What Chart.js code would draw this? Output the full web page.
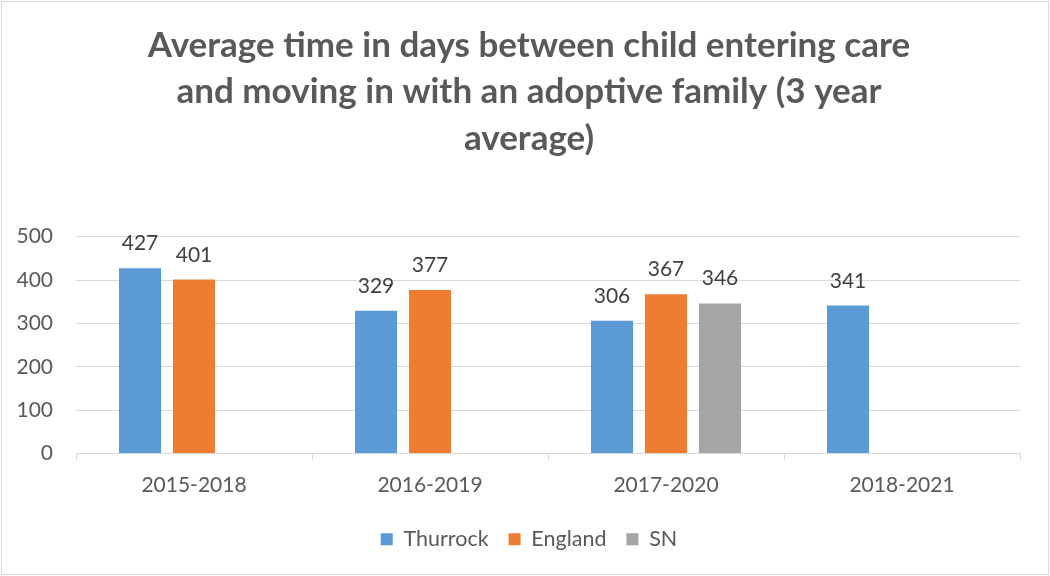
<!DOCTYPE html>
<html>
<head>
<meta charset="utf-8">
<title>Adoption timeliness</title>
<script src="https://cdn.jsdelivr.net/npm/chart.js@4/dist/chart.umd.min.js"></script>
<style>
  html, body { margin: 0; padding: 0; background: #fff; }
  #wrap { width: 1050px; height: 576px; position: relative; }
</style>
</head>
<body>
<div id="wrap"><canvas id="adoptChart"></canvas></div>
<script>
const periods = ["2015-2018", "2016-2019", "2017-2020", "2018-2021"];
const thurrock = [427, 329, 306, 341];
const england = [401, 377, 367, null];
const statNeighbours = [null, null, 346, null];
const yTicks = [0, 100, 200, 300, 400, 500];

const titleLines = [
  "Average time in days between child entering care",
  "and moving in with an adoptive family (3 year",
  "average)"
];

const FONT = "Lato, 'Open Sans', sans-serif";
const GREY_TEXT = "#595959";
const GRID = "#d9d9d9";

// white background plus a thin frame round the whole chart
const frame = {
  id: "frame",
  beforeDraw(chart) {
    const { ctx, width, height } = chart;
    ctx.save();
    ctx.fillStyle = "#fff";
    ctx.fillRect(0, 0, width, height);
    ctx.strokeStyle = GRID;
    ctx.lineWidth = 1;
    ctx.strokeRect(1.5, 1.5, width - 3, height - 3);
    ctx.restore();
  }
};

// value printed above every bar
const barValues = {
  id: "barValues",
  afterDatasetsDraw(chart) {
    const ctx = chart.ctx;
    ctx.save();
    ctx.font = "21px " + FONT;
    ctx.fillStyle = "#404040";
    ctx.textAlign = "center";
    ctx.textBaseline = "alphabetic";
    chart.data.datasets.forEach((ds, i) => {
      const meta = chart.getDatasetMeta(i);
      if (meta.hidden) return;
      meta.data.forEach((bar, j) => {
        const v = ds.data[j];
        if (v === null || v === undefined) return;
        ctx.fillText(String(v), bar.x, bar.y - 18);
      });
    });
    ctx.restore();
  }
};

new Chart(document.getElementById("adoptChart"), {
  type: "bar",
  data: {
    labels: periods,
    datasets: [
      { label: "Thurrock", data: thurrock, backgroundColor: "#5b9bd5" },
      { label: "England", data: england, backgroundColor: "#ed7d31" },
      { label: "SN", data: statNeighbours, backgroundColor: "#a5a5a5" }
    ]
  },
  options: {
    responsive: true,
    maintainAspectRatio: false,
    animation: false,
    categoryPercentage: 0.686,
    barPercentage: 0.78,
    layout: { padding: { left: 17, right: 9, top: 0, bottom: 16 } },
    plugins: {
      title: {
        display: true,
        text: titleLines,
        color: GREY_TEXT,
        font: { family: FONT, size: 35, weight: "bold", lineHeight: 1.33 },
        padding: { top: 22, bottom: 75 }
      },
      legend: {
        position: "bottom",
        labels: {
          boxWidth: 12,
          boxHeight: 12,
          padding: 20,
          color: GREY_TEXT,
          font: { family: FONT, size: 21.5 }
        }
      },
      tooltip: { enabled: false }
    },
    scales: {
      x: {
        grid: {
          display: true,
          drawOnChartArea: false,
          drawTicks: true,
          tickLength: 7,
          color: GRID
        },
        border: { display: true, color: GRID },
        ticks: { color: GREY_TEXT, font: { family: FONT, size: 21 }, padding: 12 },
        afterFit(scale) { scale.height = 55; }
      },
      y: {
        min: 0,
        max: 500,
        afterBuildTicks(scale) { scale.ticks = yTicks.map(v => ({ value: v })); },
        grid: { color: GRID, drawTicks: false },
        border: { display: false },
        ticks: { color: GREY_TEXT, font: { family: FONT, size: 21 }, padding: 23 },
        afterFit(scale) { scale.width = 59; }
      },
      // empty right-hand margin so the plot ends short of the frame
      spacer: {
        type: "linear",
        position: "right",
        grid: { display: false },
        border: { display: false },
        ticks: { display: false },
        afterFit(scale) { scale.width = 21; }
      }
    }
  },
  plugins: [frame, barValues]
});
</script>
</body>
</html>
